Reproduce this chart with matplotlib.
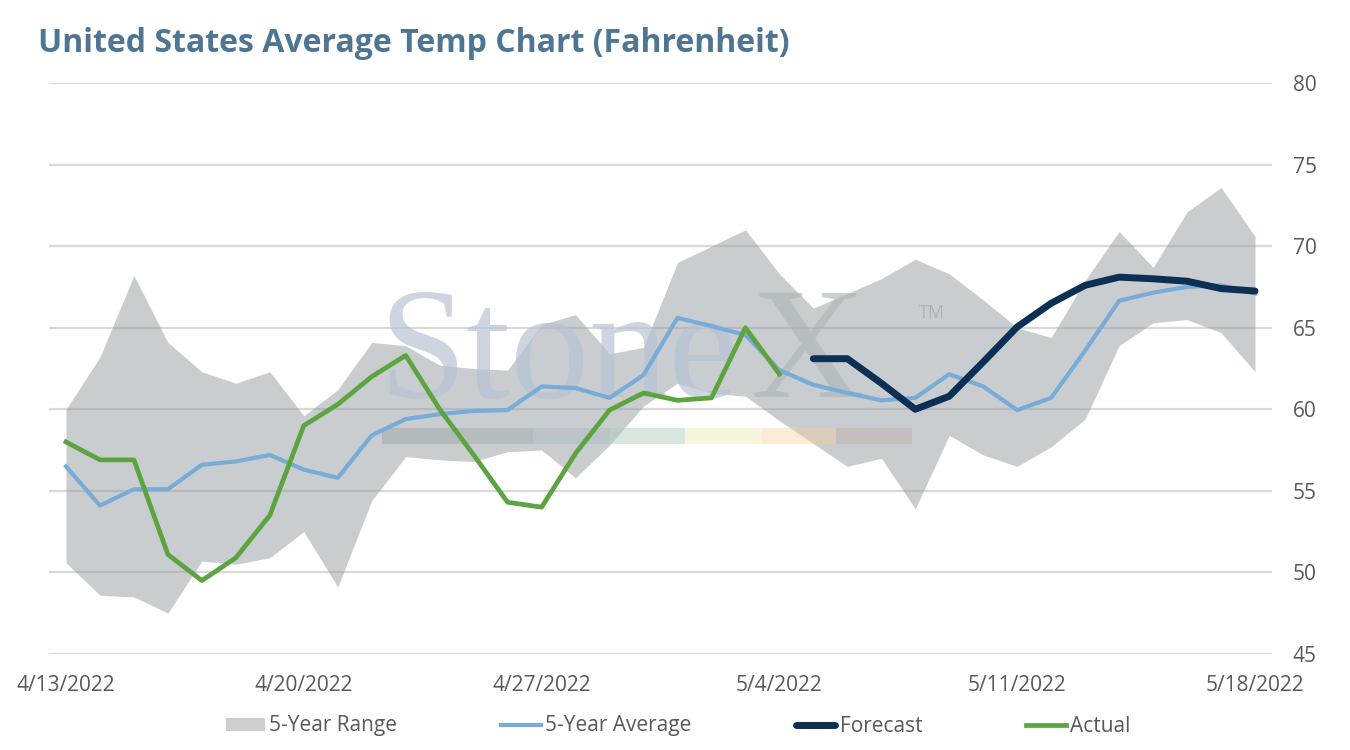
import numpy as np
import pandas as pd
import matplotlib
matplotlib.use("Agg")
import matplotlib.pyplot as plt
from matplotlib.patches import Patch, Rectangle
from matplotlib.lines import Line2D

# ---- data ----
dates = pd.date_range("2022-04-13", "2022-05-18", freq="D")

range_hi = [60.0, 63.2, 68.2, 64.1, 62.3, 61.6, 62.3, 59.6, 61.2, 64.1, 63.9, 62.7,
            62.5, 62.4, 65.2, 65.8, 63.4, 63.8, 69.0, 70.0, 71.0, 68.3, 66.2, 67.1,
            68.0, 69.2, 68.3, 66.7, 65.0, 64.4, 67.9, 70.9, 68.7, 72.1, 73.6, 70.6]
range_lo = [50.6, 48.6, 48.5, 47.5, 50.7, 50.5, 50.9, 52.5, 49.1, 54.4, 57.1, 56.9,
            56.8, 57.4, 57.5, 55.8, 57.8, 60.2, 61.6, 61.0, 60.8, 59.3, 57.9, 56.5,
            57.0, 53.9, 58.4, 57.2, 56.5, 57.7, 59.4, 63.9, 65.3, 65.5, 64.7, 62.3]
avg5 = [56.5, 54.1, 55.1, 55.1, 56.6, 56.8, 57.2, 56.3, 55.8, 58.4, 59.4, 59.7,
        59.9, 59.95, 61.4, 61.3, 60.7, 62.1, 65.6, 65.1, 64.55, 62.4, 61.5, 61.0,
        60.55, 60.7, 62.15, 61.4, 59.95, 60.7, 63.6, 66.65, 67.15, 67.5, 67.6, 67.1]
actual = [58.0, 56.9, 56.9, 51.1, 49.5, 50.9, 53.5, 59.0, 60.3, 62.0, 63.3, 60.0,
          57.2, 54.3, 54.0, 57.3, 59.95, 61.0, 60.55, 60.7, 65.0, 62.15]
forecast = [63.1, 63.1, 61.6, 60.0, 60.8, 62.9, 65.05, 66.5, 67.6, 68.1, 68.0,
            67.85, 67.4, 67.25]

tick_dates = pd.date_range("2022-04-13", "2022-05-18", freq="7D")
y_ticks = [45, 50, 55, 60, 65, 70, 75, 80]

act_dates = dates[:len(actual)]
fc_dates = dates[len(dates) - len(forecast):]

# ---- style ----
plt.rcParams["font.family"] = ["Open Sans", "DejaVu Sans"]
txt_gray = "#595959"
c_range = "#959da1"
c_avg = "#78acd8"
c_fc = "#0b3053"
c_act = "#5ca440"

W, H = 1350, 750
ax_l, ax_r, ax_t, ax_b = 49, 1272, 83, 654
fig = plt.figure(figsize=(13.5, 7.5), dpi=100)
ax = fig.add_axes([ax_l / W, 1 - ax_b / H, (ax_r - ax_l) / W, (ax_b - ax_t) / H])

def axx(px):
    return (px - ax_l) / (ax_r - ax_l)

def axy(py):
    return (ax_b - py) / (ax_b - ax_t)

ax.fill_between(dates, range_lo, range_hi, color=c_range, alpha=0.5, lw=0, zorder=1)

for y in y_ticks:
    ax.axhline(y, color="#d9d9d9", lw=1.6, zorder=0.5)

# watermark
ax.text(axx(378), axy(397), "Stone", transform=ax.transAxes, fontsize=114,
        family="Liberation Serif", color="#b7c4d4", alpha=0.7, zorder=2,
        ha="left", va="baseline")
ax.text(axx(751), axy(397), "X", transform=ax.transAxes, fontsize=114,
        family="Liberation Serif", color="#aeb3b6", alpha=0.6, zorder=2,
        ha="left", va="baseline")
ax.text(axx(919), axy(313), "TM", transform=ax.transAxes, fontsize=13,
        color="#a9adb0", alpha=0.8, zorder=2, ha="left", va="center")
bar_cols = ["#8e9599", "#939ba0", "#9fb2ba", "#a9cdb9", "#efeab4", "#f7cf9c", "#c4aaaa"]
bar_alph = [0.35, 0.35, 0.35, 0.45, 0.45, 0.4, 0.45]
bw = (axx(912) - axx(382)) / 7
for k, (bc, ba) in enumerate(zip(bar_cols, bar_alph)):
    ax.add_patch(Rectangle((axx(382) + k * bw, axy(444)), bw, axy(428) - axy(444),
                           transform=ax.transAxes, color=bc, alpha=ba, lw=0, zorder=2))

ax.plot(dates, avg5, color=c_avg, lw=3.0, zorder=3, solid_joinstyle="round")
ax.plot(act_dates, actual, color=c_act, lw=3.4, zorder=4, solid_joinstyle="round")
ax.plot(fc_dates, forecast, color=c_fc, lw=5.0, zorder=5,
        solid_joinstyle="round", solid_capstyle="round")

ax.set_xlim(dates[0] - pd.Timedelta(days=0.5), dates[-1] + pd.Timedelta(days=0.5))
ax.set_ylim(45, 80)
ax.set_xticks(tick_dates)
ax.set_xticklabels([f"{d.month}/{d.day}/{d.year}" for d in tick_dates],
                   fontsize=15, color=txt_gray)
ax.set_yticks(y_ticks)
ax.set_yticklabels([str(y) for y in y_ticks], fontsize=15, color=txt_gray)
ax.yaxis.tick_right()
ax.tick_params(axis="both", length=0)
ax.tick_params(axis="x", pad=15)
ax.tick_params(axis="y", pad=15)
for s in ax.spines.values():
    s.set_visible(False)

fig.text(38 / W, 1 - 43 / H, "United States Average Temp Chart (Fahrenheit)",
         fontsize=23, fontweight="bold", color="#4e7592", ha="left", va="center")

handles = [Patch(facecolor="#cbcfd1", edgecolor="none"),
           Line2D([], [], color=c_avg, lw=3.0),
           Line2D([], [], color=c_fc, lw=5.0, solid_capstyle="round"),
           Line2D([], [], color=c_act, lw=3.4)]
labels = ["5-Year Range", "5-Year Average", "Forecast", "Actual"]
fig.legend(handles, labels, loc="center", bbox_to_anchor=(678 / W, 1 - 726 / H),
           ncol=4, frameon=False, fontsize=15, labelcolor=txt_gray,
           handlelength=1.9, handleheight=0.6, handletextpad=0.2, columnspacing=5.0)

fig.savefig("out.png", dpi=100, facecolor="white")
